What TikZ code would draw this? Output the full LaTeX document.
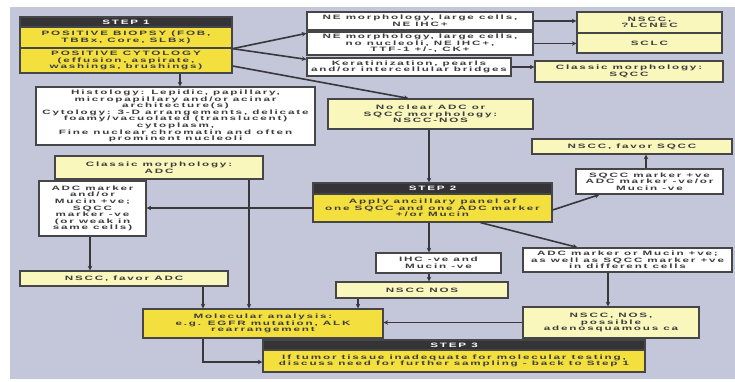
\documentclass[tikz,border=0pt]{standalone}
\usepackage{fontspec}
\newfontfamily\boxfont[FakeStretch=1.85,LetterSpace=29]{Liberation Sans Bold}
\usetikzlibrary{arrows.meta,calc}
\definecolor{panel}{RGB}{196,198,218}
\definecolor{dyel}{RGB}{243,224,62}
\definecolor{lyel}{RGB}{249,247,188}
\definecolor{headc}{RGB}{52,52,54}
\definecolor{bordc}{RGB}{70,70,72}
\definecolor{txtc}{RGB}{60,60,62}
\definecolor{linec}{RGB}{55,55,60}
\newcommand\placebox[7]{\node[#1,minimum width={(#4-#2)*1pt},minimum height={(#5-#3)*1pt}] (#6) at ({(#2+#4)/2},{(#3+#5)/2}) {#7};}
\begin{document}
\begin{tikzpicture}[x=1pt,y=-1pt,
  base/.style={draw=bordc,line width=1.3pt,inner sep=0pt,align=center,text=txtc,
    font=\boxfont\fontsize{6.3}{6.6}\selectfont},
  wbox/.style={base,fill=white},
  lbox/.style={base,fill=lyel},
  dbox/.style={base,fill=dyel},
  hbox/.style={base,fill=headc,text=white},
  conn/.style={draw=linec,line width=1.6pt,-{Stealth[length=4.5pt,width=4.5pt]}},
  plain/.style={draw=linec,line width=1.6pt}]
\useasboundingbox (0,0) rectangle (735,381);
\fill[white] (0,0) rectangle (735,381);
\fill[panel] (10,7) rectangle (735,379);
% step 1
\placebox{hbox}{20}{17}{232}{27}{s1h}{STEP 1}
\placebox{dbox}{20}{27}{232}{48}{s1a}{POSITIVE BIOPSY (FOB,\\TBBx, Core, SLBx)}
\placebox{dbox}{20}{48}{232}{73}{s1b}{POSITIVE CYTOLOGY\\(effusion, aspirate,\\washings, brushings)}
% top right
\placebox{wbox}{307}{12}{533}{30}{ne1}{NE morphology, large cells,\\NE IHC+}
\placebox{wbox}{307}{32}{533}{55}{ne2}{NE morphology, large cells,\\no nucleoli, NE IHC+,\\TTF-1 +/-, CK+}
\placebox{wbox}{307}{58}{511}{76}{ker}{Keratinization, pearls\\and/or intercellular bridges}
\placebox{lbox}{577}{12}{722}{33}{lcnec}{NSCC,\\?LCNEC}
\placebox{lbox}{577}{33}{722}{53}{sclc}{SCLC}
\placebox{lbox}{535}{61}{723}{82}{csq}{Classic morphology:\\SQCC}
% middle
\placebox{wbox}{36}{87}{315}{145}{hist}{Histology: Lepidic, papillary,\\micropapillary and/or acinar\\architecture(s)\\Cytology: 3-D arrangements, delicate\\foamy/vacuolated (translucent)\\cytoplasm,\\Fine nuclear chromatin and often\\prominent nucleoli}
\placebox{lbox}{328}{99}{533}{129}{noc}{No clear ADC or\\SQCC morphology:\\NSCC-NOS}
\placebox{lbox}{55}{156}{263}{179}{cadc}{Classic morphology:\\ADC}
\placebox{lbox}{532}{139}{732}{154}{fsq}{NSCC, favor SQCC}
\placebox{wbox}{576}{169}{723}{194}{sqm}{SQCC marker +ve\\ADC marker -ve/or\\Mucin -ve}
\placebox{hbox}{313}{183}{552}{194}{s2h}{STEP 2}
\placebox{dbox}{313}{194}{552}{222}{s2b}{Apply ancillary panel of\\one SQCC and one ADC marker\\+/or Mucin}
\placebox{wbox}{39}{181}{146}{236}{adcm}{ADC marker\\and/or\\Mucin +ve;\\SQCC\\marker -ve\\(or weak in\\same cells)}
\placebox{wbox}{376}{253}{501}{273}{ihc}{IHC -ve and\\Mucin -ve}
\placebox{wbox}{523}{248}{732}{272}{amb}{ADC marker or Mucin +ve;\\as well as SQCC marker +ve\\in different cells}
\placebox{lbox}{336}{282}{508}{298}{nos}{NSCC NOS}
\placebox{lbox}{20}{271}{228}{286}{fadc}{NSCC, favor ADC}
\placebox{dbox}{143}{309}{383}{338}{mol}{Molecular analysis:\\e.g. EGFR mutation, ALK\\rearrangement}
\placebox{lbox}{523}{307}{699}{338}{nosp}{NSCC, NOS,\\possible\\adenosquamous ca}
\placebox{hbox}{263}{340}{645}{350}{s3h}{STEP 3}
\placebox{dbox}{263}{350}{645}{372}{s3b}{If tumor tissue inadequate for molecular testing,\\discuss need for further sampling - back to Step 1}
% guide coordinates
\coordinate (xa) at (180,0);
\coordinate (xb) at (249,0);
\coordinate (xc) at (90,0);
\coordinate (xd) at (203,0);
\coordinate (xe) at (429,0);
\coordinate (xf) at (358,0);
\coordinate (xg) at (608,0);
\coordinate (xh) at (646,0);
\coordinate (yc) at (0,66);
\coordinate (turn) at (203,362);
% connectors
\draw[conn] (xa |- s1b.south) -- (xa |- hist.north);
\draw[conn] (s1a.south east) -- ([yshift=-2pt]ne2.north west);
\draw[conn] (s1a.south east) -- ([yshift=-2pt]ker.north west);
\draw[conn] (s1b.east |- yc) -- ([xshift=-22pt]noc.north);
\draw[conn] (ne1.east) -- (ne1.east -| lcnec.west);
\draw[conn] (ne2.east) -- (ne2.east -| sclc.west);
\draw[conn] (ker.east) -- (ker.east -| csq.west);
\draw[conn] (xb |- cadc.south) -- (xb |- mol.north);
\draw[conn] (s2b.west) -- (s2b.west -| adcm.east);
\draw[conn] (xc |- adcm.south) -- (xc |- fadc.north);
\draw[conn] (xd |- fadc.south) -- (xd |- mol.north);
\draw[conn] (xd |- mol.south) -- (turn) -- (turn -| s3b.west);
\draw[conn] (xe |- noc.south) -- (xe |- s2h.north);
\draw[conn] (xe |- s2b.south) -- (xe |- ihc.north);
\draw[conn] (xe |- ihc.south) -- (xe |- nos.north);
\draw[conn] (xf |- nos.south) -- (xf |- mol.north);
\draw[conn] (nosp.west) -- (nosp.west -| mol.east);
\draw[conn] (xg |- amb.south) -- (xg |- nosp.north);
\draw[conn] ([xshift=-72pt]s2b.south east) -- ([xshift=55pt]amb.north west);
\draw[conn] ([yshift=-2pt]s2b.east) -- ([xshift=24pt]sqm.south west);
\draw[conn] (xh |- sqm.north) -- (xh |- fsq.south);
\end{tikzpicture}
\end{document}
